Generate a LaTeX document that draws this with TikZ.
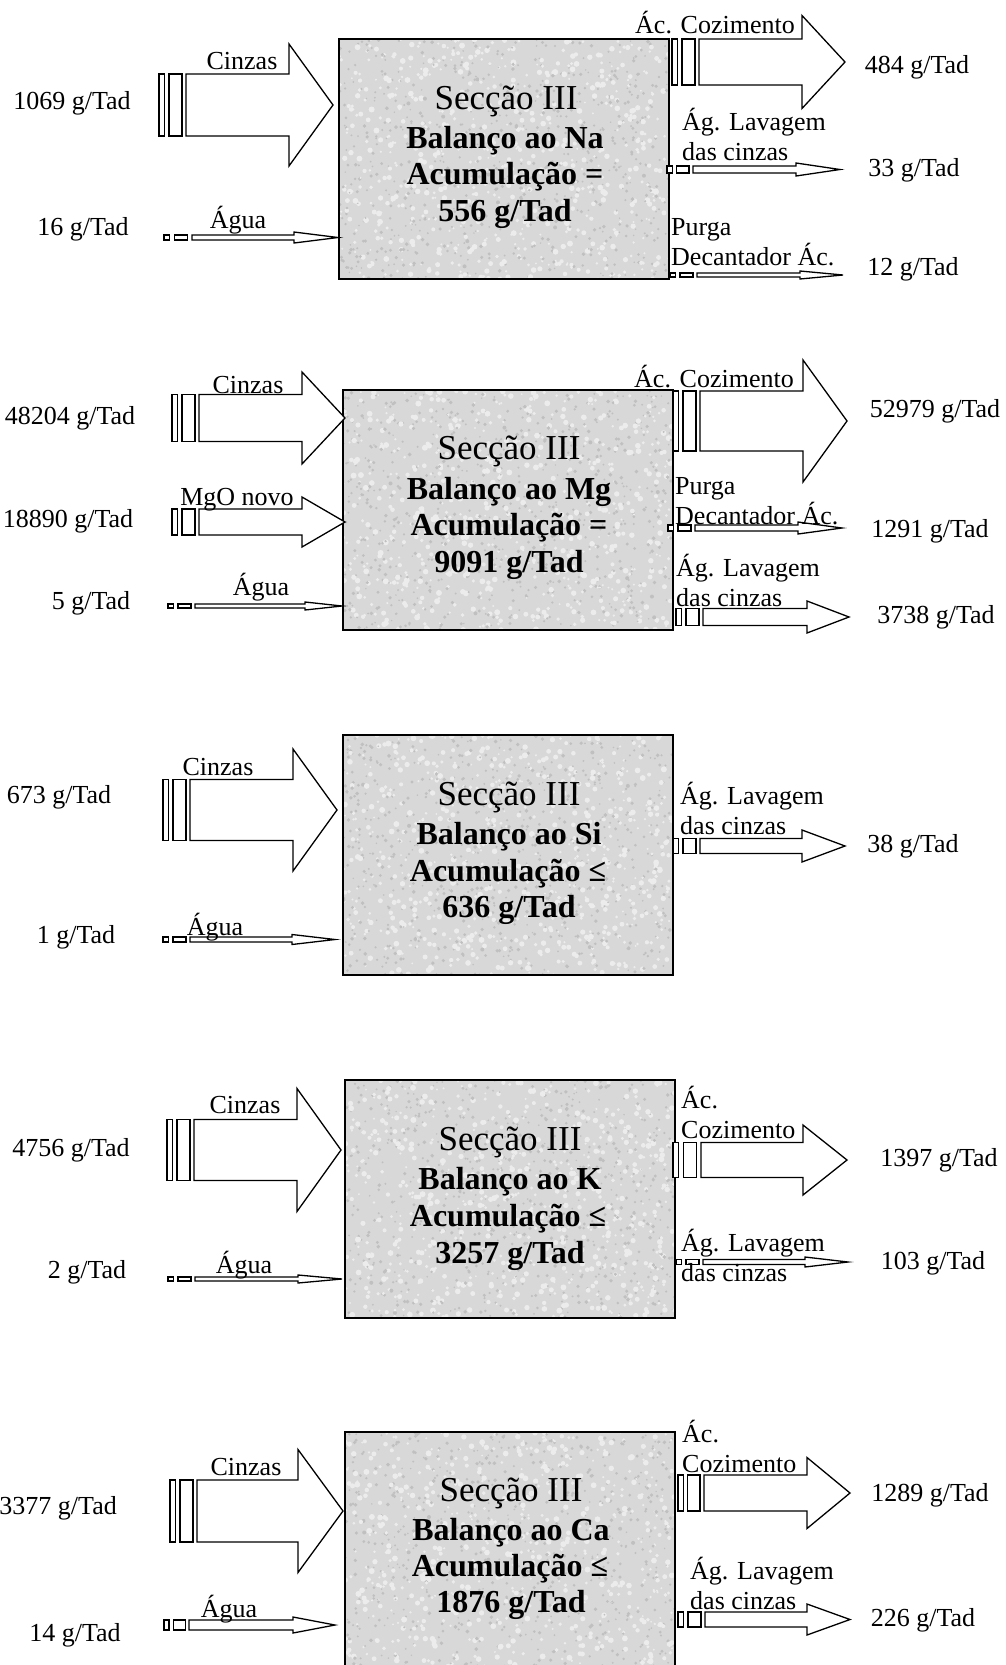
\documentclass[tikz,border=0pt]{standalone}
\usepackage{fontspec}
\setmainfont{Liberation Serif}
\definecolor{boxgray}{RGB}{216,216,216}
\definecolor{specklight}{RGB}{236,236,236}
\definecolor{speckdark}{RGB}{192,192,192}
\tikzset{
  arr/.style={draw=black, line width=1.3pt, fill=white, line join=miter},
  boxline/.style={draw=black, line width=2pt},
  lbl/.style={font=\fontsize{26}{30}\selectfont, inner sep=0pt},
  ttl/.style={font=\fontsize{35}{40}\selectfont, inner sep=0pt},
  bld/.style={font=\bfseries\fontsize{32}{36}\selectfont, inner sep=0pt},
}
% striped block arrow: tail x, shaft start x, head base x, tip x, centre y, shaft half height, head half height
\newcommand{\sarrow}[7]{%
  \pgfmathsetmacro\La{#2-#1}%
  \draw[arr] ({#1},{#5-#6}) rectangle ({#1+0.2*\La},{#5+#6});
  \draw[arr] ({#1+0.37*\La},{#5-#6}) rectangle ({#1+0.85*\La},{#5+#6});
  \draw[arr] ({#2},{#5-#6}) -- ({#3},{#5-#6}) -- ({#3},{#5-#7}) -- ({#4},{#5})
     -- ({#3},{#5+#7}) -- ({#3},{#5+#6}) -- ({#2},{#5+#6}) -- cycle;
}
% textured box
\newcommand{\granite}[5]{%
  \fill[boxgray] ({#1},{#2}) rectangle ({#3},{#4});
  \begin{scope}
    \clip ({#1},{#2}) rectangle ({#3},{#4});
    \foreach \k in {1,...,700}{
      \fill[specklight] ({#1+(#3-#1)*rnd},{#2+(#4-#2)*rnd}) circle ({1.0+2.0*rnd});
      \fill[speckdark] ({#1+(#3-#1)*rnd},{#2+(#4-#2)*rnd}) circle ({0.8+1.2*rnd});
    }
  \end{scope}
  \node[boxline, inner sep=0pt, minimum width={#3-#1}, minimum height={#4-#2}] (#5) at ({(#1+#3)/2},{(#2+#4)/2}) {};
}
\begin{document}
\begin{tikzpicture}[x=1pt,y=-1pt]
\pgfmathsetseed{7}
\useasboundingbox (0,0) rectangle (1006,1665);
\clip (0,0) rectangle (1006,1665);

%================ Section 1 : Na
\granite{339}{39}{669}{279}{box1}
\node[ttl] (t1a) at (506,101) {Secção III};
\node[bld] (t1b) at (505,141) {Balanço ao Na};
\node[bld] (t1c) at (505,177) {Acumulação =};
\node[bld] (t1d) at (505,214) {556 g/Tad};
\sarrow{159}{186}{289}{333}{105}{31}{61}
\sarrow{164}{192}{294}{338}{237.5}{2.5}{5.5}
\sarrow{672}{699}{802}{845}{62}{23}{46.5}
\sarrow{667}{693}{796}{840}{169.5}{3.5}{6.5}
\sarrow{670}{697}{800}{843}{275}{2}{4}
\node[lbl] (n1in1) at (72,103) {1069 g/Tad};
\node[lbl] (n1in2) at (83,229) {16 g/Tad};
\node[lbl] (n1c) at (242,61) {Cinzas};
\node[lbl] (n1w) at (238,220) {Água};
\node[lbl] (n1ac) at (715,23) {Ác. Cozimento};
\node[lbl] (n1o1) at (917,67) {484 g/Tad};
\node[lbl, align=left, anchor=west] (n1lav) at (682,134) {Ág. Lavagem\\das cinzas};
\node[lbl] (n1o2) at (914,170) {33 g/Tad};
\node[lbl, align=left, anchor=west] (n1pur) at (671,242) {Purga\\Decantador Ác.};
\node[lbl] (n1o3) at (913,269) {12 g/Tad};

%================ Section 2 : Mg
\granite{343}{390}{673}{630}{box2}
\node[ttl] (t2a) at (509,451) {Secção III};
\node[bld] (t2b) at (509,492) {Balanço ao Mg};
\node[bld] (t2c) at (509,528) {Acumulação =};
\node[bld] (t2d) at (509,565) {9091 g/Tad};
\sarrow{172}{199}{302}{345}{418}{23.5}{46}
\sarrow{172}{199}{302}{345}{522}{13}{25}
\sarrow{168}{195}{305}{342}{606}{2}{4}
\sarrow{673}{700}{803}{847}{421}{30}{61}
\sarrow{668}{695}{798}{842}{528}{3}{6}
\sarrow{676}{703}{807}{849}{617}{8.5}{16}
\node[lbl] (n2in1) at (70,418) {48204 g/Tad};
\node[lbl] (n2in2) at (68,521) {18890 g/Tad};
\node[lbl] (n2in3) at (91,603) {5 g/Tad};
\node[lbl] (n2c) at (248,385) {Cinzas};
\node[lbl] (n2m) at (237,500) {MgO novo};
\node[lbl] (n2w) at (261,587) {Água};
\node[lbl] (n2ac) at (714,377) {Ác. Cozimento};
\node[lbl] (n2o1) at (935,411) {52979 g/Tad};
\node[lbl, align=left, anchor=west] (n2pur) at (675,501) {Purga\\Decantador Ác.};
\node[lbl] (n2o2) at (930,531) {1291 g/Tad};
\node[lbl, align=left, anchor=west] (n2lav) at (676,580) {Ág. Lavagem\\das cinzas};
\node[lbl] (n2o3) at (936,617) {3738 g/Tad};

%================ Section 3 : Si
\granite{343}{735}{673}{975}{box3}
\node[ttl] (t3a) at (509,797) {Secção III};
\node[bld] (t3b) at (509,837) {Balanço ao Si};
\node[bld] (t3c) at (508,874) {Acumulação ≤};
\node[bld] (t3d) at (509,910) {636 g/Tad};
\sarrow{163}{190}{293}{337}{810}{30.5}{61}
\sarrow{163}{190}{292}{335}{939.5}{2.5}{5}
\sarrow{673}{700}{802}{845}{846}{7.5}{16}
\node[lbl] (n3in1) at (59,797) {673 g/Tad};
\node[lbl] (n3in2) at (76,937) {1 g/Tad};
\node[lbl] (n3c) at (218,767) {Cinzas};
\node[lbl] (n3w) at (215,927) {Água};
\node[lbl, align=left, anchor=west] (n3lav) at (680,808) {Ág. Lavagem\\das cinzas};
\node[lbl] (n3o1) at (913,846) {38 g/Tad};

%================ Section 4 : K
\granite{345}{1080}{675}{1318}{box4}
\node[ttl] (t4a) at (510,1142) {Secção III};
\node[bld] (t4b) at (510,1182) {Balanço ao K};
\node[bld] (t4c) at (508,1219) {Acumulação ≤};
\node[bld] (t4d) at (510,1256) {3257 g/Tad};
\sarrow{167}{194}{297}{341}{1150}{30.5}{61.5}
\sarrow{168}{195}{298}{342}{1279}{2}{4}
\sarrow{673}{701}{803}{847}{1160}{17.5}{35}
\sarrow{676}{703}{805}{848}{1262}{2.5}{5}
\node[lbl] (n4in1) at (71,1150) {4756 g/Tad};
\node[lbl] (n4in2) at (87,1272) {2 g/Tad};
\node[lbl] (n4c) at (245,1105) {Cinzas};
\node[lbl] (n4w) at (244,1265) {Água};
\node[lbl, align=left, anchor=west] (n4ac) at (681,1112) {Ác.\\Cozimento};
\node[lbl] (n4o1) at (939,1160) {1397 g/Tad};
\node[lbl, align=left, anchor=west] (n4lav) at (681,1255) {Ág. Lavagem\\das cinzas};
\node[lbl] (n4o2) at (933,1263) {103 g/Tad};

%================ Section 5 : Ca
\granite{345}{1432}{675}{1690}{box5}
\node[ttl] (t5a) at (511,1493) {Secção III};
\node[bld] (t5b) at (511,1533) {Balanço ao Ca};
\node[bld] (t5c) at (510,1569) {Acumulação ≤};
\node[bld] (t5d) at (511,1605) {1876 g/Tad};
\sarrow{170}{197}{298}{343}{1511}{31}{61.5}
\sarrow{164}{189}{293}{335}{1625}{5}{8}
\sarrow{678}{704}{807}{850}{1493}{18}{35.5}
\sarrow{678}{705}{807}{850}{1619.5}{7.5}{15.5}
\node[lbl, anchor=east] (n5in1) at (117,1508) {3377 g/Tad};
\node[lbl] (n5in2) at (75,1635) {14 g/Tad};
\node[lbl] (n5c) at (246,1467) {Cinzas};
\node[lbl] (n5w) at (229,1609) {Água};
\node[lbl, align=left, anchor=west] (n5ac) at (682,1446) {Ác.\\Cozimento};
\node[lbl] (n5o1) at (930,1495) {1289 g/Tad};
\node[lbl, align=left, anchor=west] (n5lav) at (690,1583) {Ág. Lavagem\\das cinzas};
\node[lbl] (n5o2) at (923,1620) {226 g/Tad};
\end{tikzpicture}
\end{document}
